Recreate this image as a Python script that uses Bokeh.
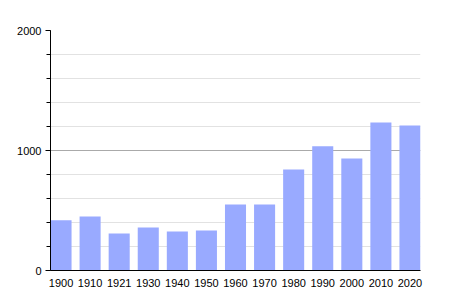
from bokeh.plotting import figure
from bokeh.models import FixedTicker, Range1d
from bokeh.embed import file_html
from bokeh.resources import INLINE

years = ["1900", "1910", "1921", "1930", "1940", "1950", "1960", "1970",
         "1980", "1990", "2000", "2010", "2020"]
population = [418, 450, 308, 358, 325, 333, 550, 550, 842, 1036, 933, 1233, 1208]
y_ticks = [0, 1000, 2000]

xs = list(range(len(years)))
w = 0.724

p = figure(width=450, height=300, output_backend="svg", toolbar_location=None,
           x_range=Range1d(-w / 2, len(years) - 1 + w / 2), y_range=Range1d(0, 2000),
           min_border_left=50, min_border_right=30, min_border_top=30, min_border_bottom=30)
p.outline_line_color = None

p.vbar(x=xs, top=population, width=w, fill_color="#99aaff", line_color=None)

p.xaxis.ticker = FixedTicker(ticks=xs)
p.xaxis.major_label_overrides = {i: y for i, y in enumerate(years)}
p.xaxis.major_tick_line_color = None
p.xaxis.minor_tick_line_color = None
p.xaxis.axis_line_color = "black"
p.xaxis.major_label_standoff = 2
p.xaxis.major_label_text_font = "Liberation Sans"
p.xaxis.major_label_text_font_size = "11px"
p.xaxis.major_label_text_color = "black"
p.xgrid.grid_line_color = None

p.yaxis.ticker = FixedTicker(ticks=y_ticks, minor_ticks=list(range(0, 2001, 200)))
p.yaxis.axis_line_color = "black"
p.yaxis.major_tick_line_color = "black"
p.yaxis.minor_tick_line_color = "black"
p.yaxis.major_tick_out = 5
p.yaxis.major_tick_in = 0
p.yaxis.minor_tick_out = 4
p.yaxis.minor_tick_in = 0
p.yaxis.major_label_standoff = 4
p.yaxis.major_label_text_font = "Liberation Sans"
p.yaxis.major_label_text_font_size = "11px"
p.yaxis.major_label_text_color = "black"
p.ygrid.grid_line_color = "#aaaaaa"
p.ygrid.minor_grid_line_color = "#e2e2e2"
p.ygrid.level = "image"

open("out.html", "w").write(file_html(p, INLINE))
